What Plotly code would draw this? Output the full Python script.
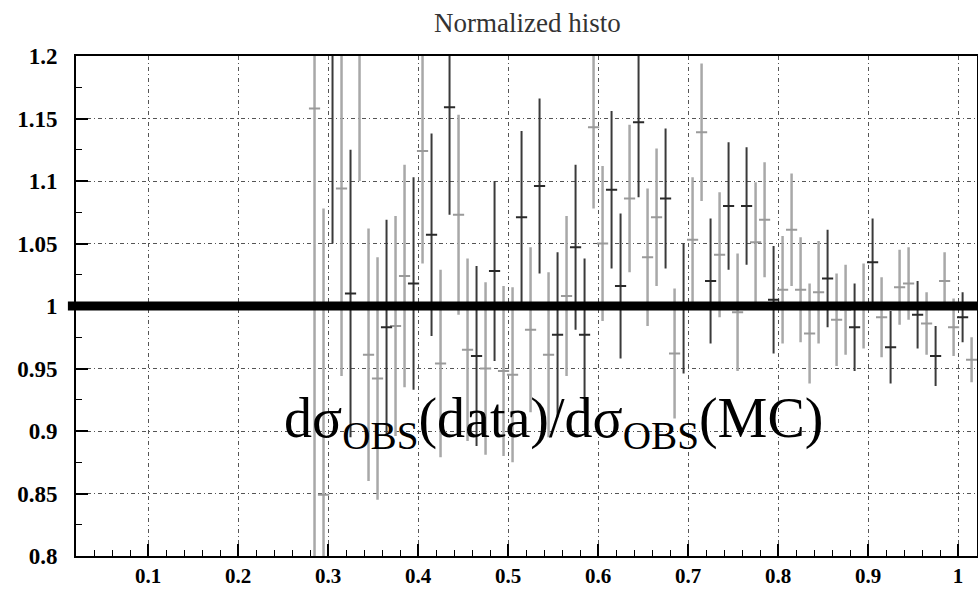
import plotly.graph_objects as go

# ---- data (bin centres, ratio values, symmetric errors) ----
x_dark = [0.305, 0.325, 0.365, 0.395, 0.415, 0.435, 0.465, 0.485, 0.515, 0.535,
          0.555, 0.575, 0.585, 0.615, 0.625, 0.645, 0.675, 0.695, 0.725, 0.745,
          0.765, 0.795, 0.855, 0.885, 0.905, 0.925, 0.955, 0.975, 1.005]
y_dark = [1.26, 1.010, 0.983, 1.018, 1.057, 1.159, 0.960, 1.028, 1.071, 1.096,
          0.977, 1.047, 0.977, 1.093, 1.016, 1.147, 1.086, 0.998, 1.020, 1.080,
          1.080, 1.005, 1.022, 0.983, 1.035, 0.967, 0.993, 0.960, 0.991]
err_dark = [0.21, 0.115, 0.086, 0.085, 0.081, 0.086, 0.072, 0.072, 0.069, 0.07,
            0.066, 0.066, 0.061, 0.063, 0.058, 0.06, 0.056, 0.052, 0.05, 0.051,
            0.047, 0.043, 0.039, 0.035, 0.035, 0.029, 0.027, 0.024, 0.02]

x_gray = [0.285, 0.295, 0.315, 0.335, 0.345, 0.355, 0.375, 0.385, 0.405, 0.425,
          0.445, 0.455, 0.475, 0.495, 0.505, 0.525, 0.545, 0.565, 0.595, 0.605,
          0.635, 0.655, 0.665, 0.685, 0.705, 0.715, 0.735, 0.755, 0.775, 0.785,
          0.805, 0.815, 0.825, 0.835, 0.845, 0.865, 0.875, 0.895, 0.915, 0.935,
          0.945, 0.965, 0.985, 0.995, 1.015]
y_gray = [1.158, 0.849, 1.094, 1.25, 0.961, 0.942, 0.984, 1.024, 1.124, 0.954,
          1.073, 0.965, 0.950, 0.948, 0.945, 0.981, 0.961, 1.008, 1.143, 1.050,
          1.086, 1.039, 1.071, 0.962, 1.053, 1.139, 1.041, 0.995, 1.051, 1.069,
          1.013, 1.061, 1.013, 0.978, 1.011, 0.989, 0.997, 1.000, 0.991, 1.015,
          1.018, 0.986, 1.020, 0.983, 0.957]
err_gray = [0.40, 0.229, 0.15, 0.15, 0.101, 0.097, 0.088, 0.089, 0.09, 0.075,
            0.08, 0.073, 0.069, 0.068, 0.07, 0.066, 0.066, 0.064, 0.065, 0.062,
            0.059, 0.055, 0.055, 0.052, 0.05, 0.055, 0.05, 0.047, 0.048, 0.046,
            0.043, 0.045, 0.042, 0.04, 0.041, 0.037, 0.036, 0.034, 0.032, 0.03,
            0.029, 0.025, 0.023, 0.023, 0.018]

reference_level = 1.0
title_text = "Normalized histo"
label_text = "dσ<sub>OBS</sub>(data)/dσ<sub>OBS</sub>(MC)"

SERIF = "Liberation Serif"

fig = go.Figure()

fig.add_trace(go.Scatter(
    x=x_gray, y=y_gray, mode="markers",
    marker=dict(symbol="line-ew", size=8, color="#9a9a9a",
                line=dict(color="#9a9a9a", width=2)),
    error_y=dict(type="data", array=err_gray, visible=True,
                 color="#a8a8a8", thickness=2.5, width=0),
    showlegend=False, cliponaxis=True,
))
fig.add_trace(go.Scatter(
    x=x_dark, y=y_dark, mode="markers",
    marker=dict(symbol="line-ew", size=8, color="#2a2a2a",
                line=dict(color="#2a2a2a", width=2)),
    error_y=dict(type="data", array=err_dark, visible=True,
                 color="#3a3a3a", thickness=2, width=0),
    showlegend=False, cliponaxis=True,
))

# thick reference line at ratio = 1
fig.add_shape(type="line", xref="paper", yref="y",
              x0=-0.009, x1=1.0, y0=reference_level, y1=reference_level,
              line=dict(color="black", width=9), layer="above")

fig.add_annotation(
    text=label_text, xref="x", yref="y", x=0.55, y=0.907,
    showarrow=False, xanchor="center", yanchor="middle",
    font=dict(family=SERIF, size=56, color="black"),
)

grid = dict(showgrid=True, gridcolor="#555555", gridwidth=1,
            griddash="4px,3px,1px,3px")

fig.update_xaxes(
    range=[0.02, 1.021], tick0=0, dtick=0.1, automargin=False,
    ticks="inside", ticklen=12, tickwidth=1.5, tickcolor="black",
    minor=dict(dtick=0.02, ticks="inside", ticklen=6, tickcolor="black",
               tickwidth=1.2, showgrid=False),
    showline=True, mirror=True, linecolor="black", linewidth=2,
    zeroline=False, ticklabelstandoff=0,
    tickfont=dict(family=SERIF, size=21, color="black", weight="bold"),
    **grid,
)
fig.update_yaxes(
    range=[0.8, 1.2], tick0=0.8, dtick=0.05, automargin=False,
    ticks="inside", ticklen=12, tickwidth=1.5, tickcolor="black",
    minor=dict(dtick=0.025, ticks="inside", ticklen=6, tickcolor="black",
               tickwidth=1.2, showgrid=False),
    showline=True, mirror=True, linecolor="black", linewidth=2,
    zeroline=False, ticklabelstandoff=12,
    tickfont=dict(family=SERIF, size=23, color="black", weight="bold"),
    **grid,
)

fig.update_layout(
    width=978, height=591,
    margin=dict(l=76, r=1, t=56, b=35, autoexpand=False),
    paper_bgcolor="white", plot_bgcolor="white",
    title=dict(text=title_text, x=0.5393, xanchor="center",
               y=0.962, yanchor="middle",
               font=dict(family=SERIF, size=27, color="#333333")),
)

fig.write_html("out.html")
